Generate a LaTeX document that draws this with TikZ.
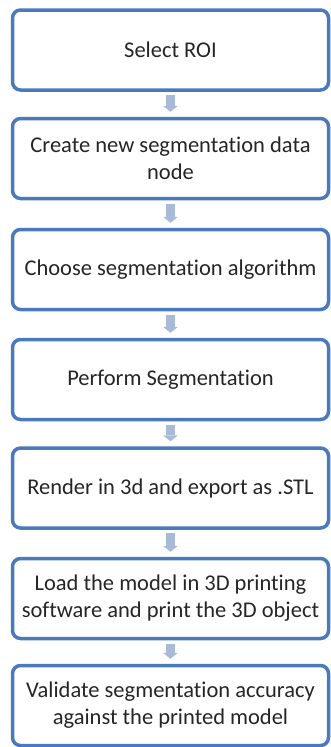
\documentclass[tikz,border=0pt]{standalone}
\usepackage{fontspec}
\setmainfont{Carlito}[Ligatures={NoCommon,NoContextual}]
\usetikzlibrary{arrows.meta}
\definecolor{boxblue}{RGB}{74,122,187}
\definecolor{arrowblue}{RGB}{168,186,216}
\definecolor{txtgray}{RGB}{38,38,38}

\begin{document}
\begin{tikzpicture}[x=1pt,y=-1pt,
  stepbox/.style={draw=boxblue, line width=3.5pt, rounded corners=8pt, fill=white,
    minimum width=316pt, minimum height=80pt, inner sep=0pt, align=center,
    text=txtgray, font=\fontsize{22.5}{27}\selectfont},
  flow/.style={draw=arrowblue, line width=9pt,
    -{Triangle[width=15pt,length=6pt,line width=0pt]},
    shorten <=3.5pt, shorten >=5pt}]
\useasboundingbox (0,0) rectangle (331,747);
% steps
\node[stepbox] (roi) at (170.5,50) {Select ROI};
\node[stepbox] (newnode) at (170.5,158.5) {Create new segmentation data\\node};
\node[stepbox] (algo) at (170.5,269.5) {Choose segmentation algorithm};
\node[stepbox] (seg) at (170.5,379.5) {Perform Segmentation};
\node[stepbox] (render) at (170.5,488) {Render in 3d and export as .STL};
\node[stepbox] (print) at (170.5,598.5) {Load the model in 3D printing\\software and print the 3D object};
\node[stepbox] (valid) at (170.5,705.5) {Validate segmentation accuracy\\against the printed model};
% arrows
\draw[flow] (roi) -- (newnode);
\draw[flow] (newnode) -- (algo);
\draw[flow] (algo) -- (seg);
\draw[flow] (seg) -- (render);
\draw[flow] (render) -- (print);
\draw[flow] (print) -- (valid);
\end{tikzpicture}
\end{document}
